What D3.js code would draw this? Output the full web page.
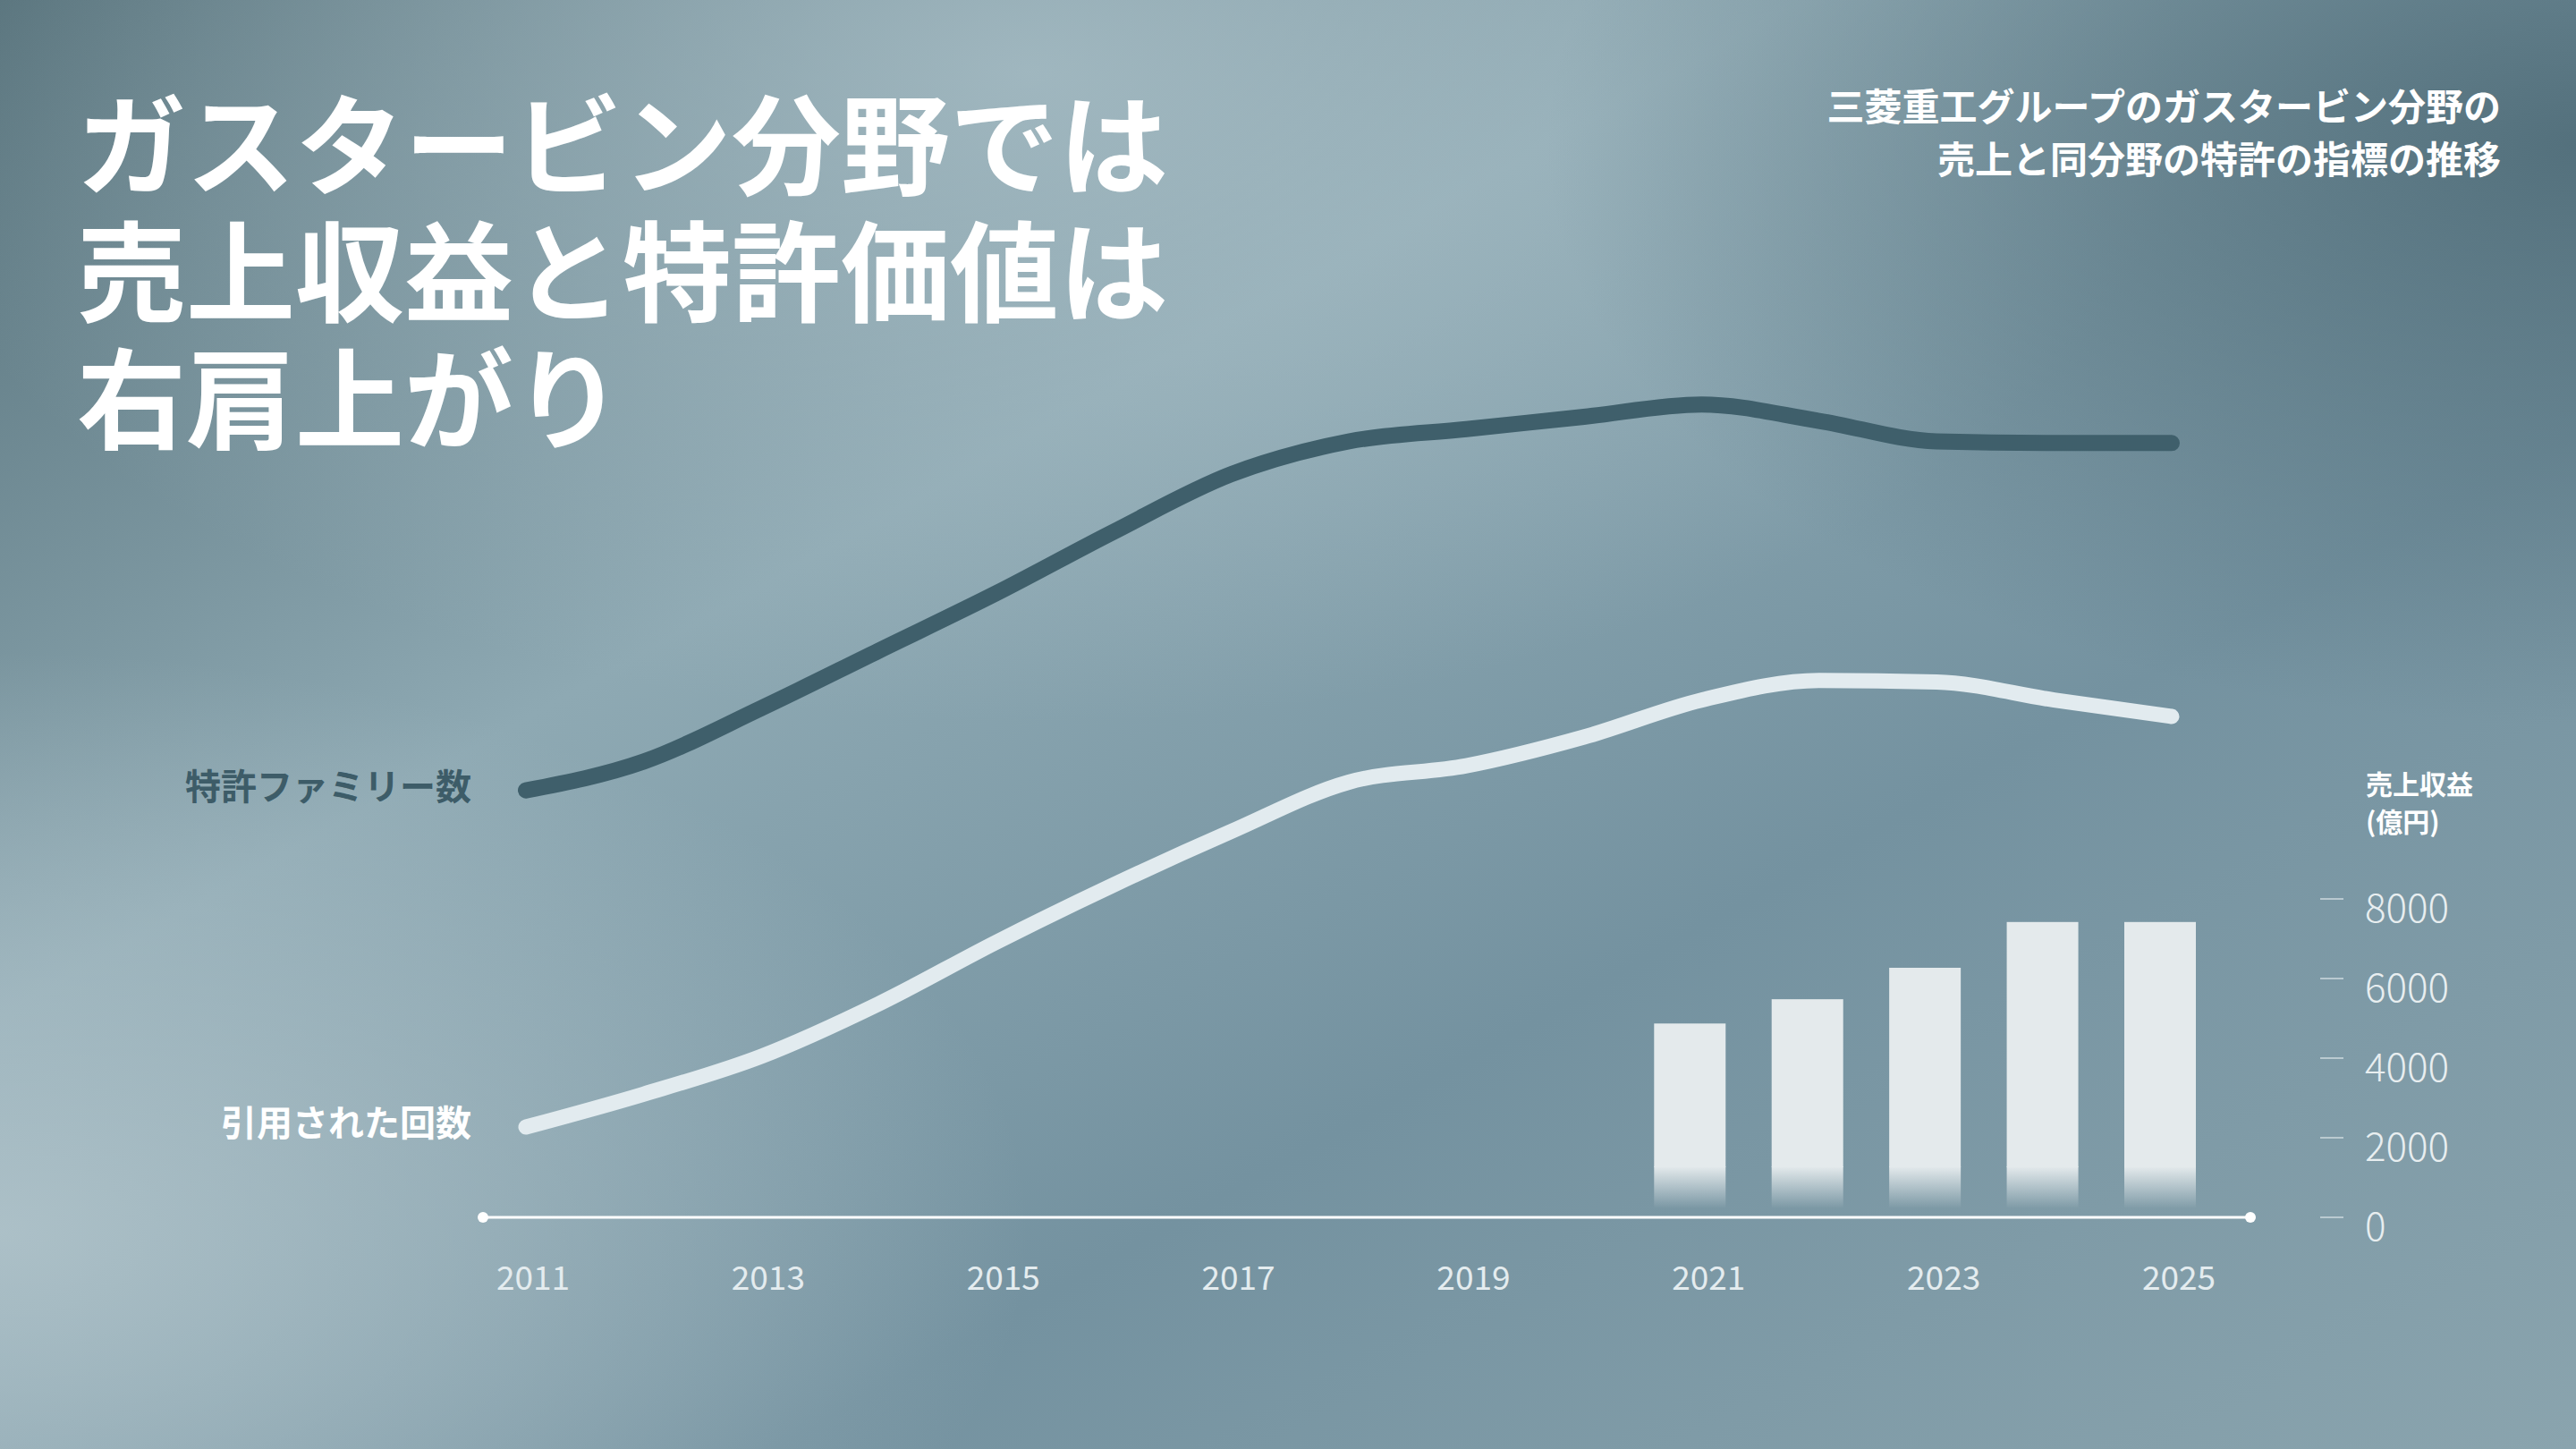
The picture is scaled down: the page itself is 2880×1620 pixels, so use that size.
<!DOCTYPE html>
<html>
<head>
<meta charset="utf-8">
<script src="https://cdn.jsdelivr.net/npm/d3@7"></script>
<style>
  html, body { margin: 0; padding: 0; background: #7893a0; }
  svg { display: block; }
  text { font-family: "Noto Sans CJK JP", "Noto Sans", sans-serif; }
</style>
</head>
<body>
<div id="chart"></div>
<script>
// data
const years = d3.range(2011, 2026);
const patentFamilies = [52, 55.5, 62, 69, 76, 83.5, 90.5, 94.5, 96, 97.5, 99, 97, 94.5, 94.3, 94.3]; // index, no axis
const citations = [11, 15, 19.6, 26, 33.5, 40.5, 47, 53, 55, 58.5, 63, 65.4, 65.2, 63, 61];   // index, no axis
const revenueYears = [2021, 2022, 2023, 2024, 2025];
const revenue = [4870, 5480, 6270, 7420, 7420]; // 億円
const revenueTicks = [0, 2000, 4000, 6000, 8000];
const yearLabels = [2011, 2013, 2015, 2017, 2019, 2021, 2023, 2025];
const titleLines = ["ガスタービン分野では", "売上収益と特許価値は", "右肩上がり"];
const subtitleLines = ["三菱重工グループのガスタービン分野の", "売上と同分野の特許の指標の推移"];

const W = 2880, H = 1620;

const svg = d3.select("#chart").append("svg")
    .attr("width", W).attr("height", H);

const defs = svg.append("defs");

// background gradients
const bg = defs.append("linearGradient").attr("id", "bg")
    .attr("x1", "0").attr("y1", "0").attr("x2", "1").attr("y2", "1");
bg.append("stop").attr("offset", "0").attr("stop-color", "#557079");
bg.append("stop").attr("offset", "0.35").attr("stop-color", "#8ea9b3");
bg.append("stop").attr("offset", "0.65").attr("stop-color", "#7492a0");
bg.append("stop").attr("offset", "1").attr("stop-color", "#8aa4ae");

const glow = defs.append("radialGradient").attr("id", "glow")
    .attr("cx", "0.4").attr("cy", "0.05").attr("r", "0.45");
glow.append("stop").attr("offset", "0").attr("stop-color", "#a9bfc7").attr("stop-opacity", 0.8);
glow.append("stop").attr("offset", "1").attr("stop-color", "#a9bfc7").attr("stop-opacity", 0);

const glowBL = defs.append("radialGradient").attr("id", "glowBL")
    .attr("cx", "0").attr("cy", "0.85").attr("r", "0.4");
glowBL.append("stop").attr("offset", "0").attr("stop-color", "#b0c3ca").attr("stop-opacity", 0.9);
glowBL.append("stop").attr("offset", "1").attr("stop-color", "#b0c3ca").attr("stop-opacity", 0);

const darkTR = defs.append("radialGradient").attr("id", "darkTR")
    .attr("cx", "1").attr("cy", "0.1").attr("r", "0.4");
darkTR.append("stop").attr("offset", "0").attr("stop-color", "#4f6c78").attr("stop-opacity", 0.9);
darkTR.append("stop").attr("offset", "1").attr("stop-color", "#4f6c78").attr("stop-opacity", 0);

svg.append("rect").attr("width", W).attr("height", H).attr("fill", "url(#bg)");
svg.append("rect").attr("width", W).attr("height", H).attr("fill", "url(#glow)");
svg.append("rect").attr("width", W).attr("height", H).attr("fill", "url(#glowBL)");
svg.append("rect").attr("width", W).attr("height", H).attr("fill", "url(#darkTR)");

// bar fade at the bottom
const barGrad = defs.append("linearGradient").attr("id", "barGrad")
    .attr("x1", "0").attr("y1", "0").attr("x2", "0").attr("y2", "1");
barGrad.append("stop").attr("offset", "0").attr("stop-color", "#e4eaec").attr("stop-opacity", 1);
barGrad.append("stop").attr("offset", "1").attr("stop-color", "#e4eaec").attr("stop-opacity", 0);

// scales
const x = d3.scaleLinear().domain([2011, 2025]).range([588, 2428]);
const yIdx = d3.scaleLinear().domain([0, 100]).range([1361, 443]);
const yRev = d3.scaleLinear().domain([0, 8000]).range([1361, 1005]);

// title
svg.append("g").selectAll("text").data(titleLines).enter().append("text")
    .attr("x", 86).attr("y", (d, i) => 208 + i * 142)
    .attr("fill", "#ffffff").attr("font-size", 122).attr("font-weight", 700)
    .text(d => d);

svg.append("g").selectAll("text").data(subtitleLines).enter().append("text")
    .attr("x", 2796).attr("y", (d, i) => 135 + i * 59)
    .attr("text-anchor", "end")
    .attr("fill", "#ffffff").attr("font-size", 42).attr("font-weight", 700)
    .text(d => d);

// bars
const bw = 80;
const fadeH = 46;
const barShift = -13;
const bars = svg.append("g");
revenue.forEach((v, i) => {
    const cx = x(revenueYears[i]) + barShift;
    const top = yRev(v), bottom = yRev(0) - 10;
    bars.append("rect")
        .attr("x", cx - bw / 2).attr("y", top)
        .attr("width", bw).attr("height", bottom - fadeH - top)
        .attr("fill", "#e4eaec");
    bars.append("rect")
        .attr("x", cx - bw / 2).attr("y", bottom - fadeH - 1)
        .attr("width", bw).attr("height", fadeH + 1)
        .attr("fill", "url(#barGrad)");
});

// right revenue axis
const revAxis = svg.append("g");
revAxis.selectAll("line").data(revenueTicks).enter().append("line")
    .attr("x1", 2594).attr("x2", 2620)
    .attr("y1", d => yRev(d)).attr("y2", d => yRev(d))
    .attr("stroke", "#c9d6db").attr("stroke-width", 2).attr("opacity", 0.8);
revAxis.selectAll("text").data(revenueTicks).enter().append("text")
    .attr("x", 2644).attr("y", d => yRev(d) + 26)
    .attr("fill", "#e8eef0").attr("font-size", 44).attr("font-weight", 300)
    .text(d => d);
revAxis.append("text").attr("x", 2645).attr("y", 888)
    .attr("fill", "#ffffff").attr("font-size", 30).attr("font-weight", 700).text("売上収益");
revAxis.append("text").attr("x", 2645).attr("y", 930)
    .attr("fill", "#ffffff").attr("font-size", 30).attr("font-weight", 700).text("(億円)");

// x axis baseline
svg.append("line").attr("x1", 540).attr("x2", 2516)
    .attr("y1", 1361).attr("y2", 1361)
    .attr("stroke", "#ffffff").attr("stroke-width", 3);
svg.selectAll(".endDot").data([540, 2516]).enter().append("circle")
    .attr("cx", d => d).attr("cy", 1361).attr("r", 6).attr("fill", "#ffffff");

svg.append("g").selectAll("text").data(yearLabels).enter().append("text")
    .attr("x", d => x(d) + 8).attr("y", 1442)
    .attr("text-anchor", "middle")
    .attr("fill", "#e4ecef").attr("font-size", 37)
    .text(d => d);

// lines
const line = d3.line().curve(d3.curveMonotoneX)
    .x((d, i) => x(years[i])).y(d => yIdx(d));

svg.append("path").datum(patentFamilies)
    .attr("d", line).attr("fill", "none")
    .attr("stroke", "#3f5f6b").attr("stroke-width", 18).attr("stroke-linecap", "round");

svg.append("path").datum(citations)
    .attr("d", line).attr("fill", "none")
    .attr("stroke", "#e2ebef").attr("stroke-width", 17).attr("stroke-linecap", "round");

// series labels
svg.append("text").attr("x", 527).attr("y", yIdx(patentFamilies[0]) + 10)
    .attr("text-anchor", "end").attr("fill", "#3d5c68")
    .attr("font-size", 40).attr("font-weight", 700).text("特許ファミリー数");
svg.append("text").attr("x", 527).attr("y", yIdx(citations[0]) + 10)
    .attr("text-anchor", "end").attr("fill", "#ffffff")
    .attr("font-size", 40).attr("font-weight", 700).text("引用された回数");
</script>
</body>
</html>
